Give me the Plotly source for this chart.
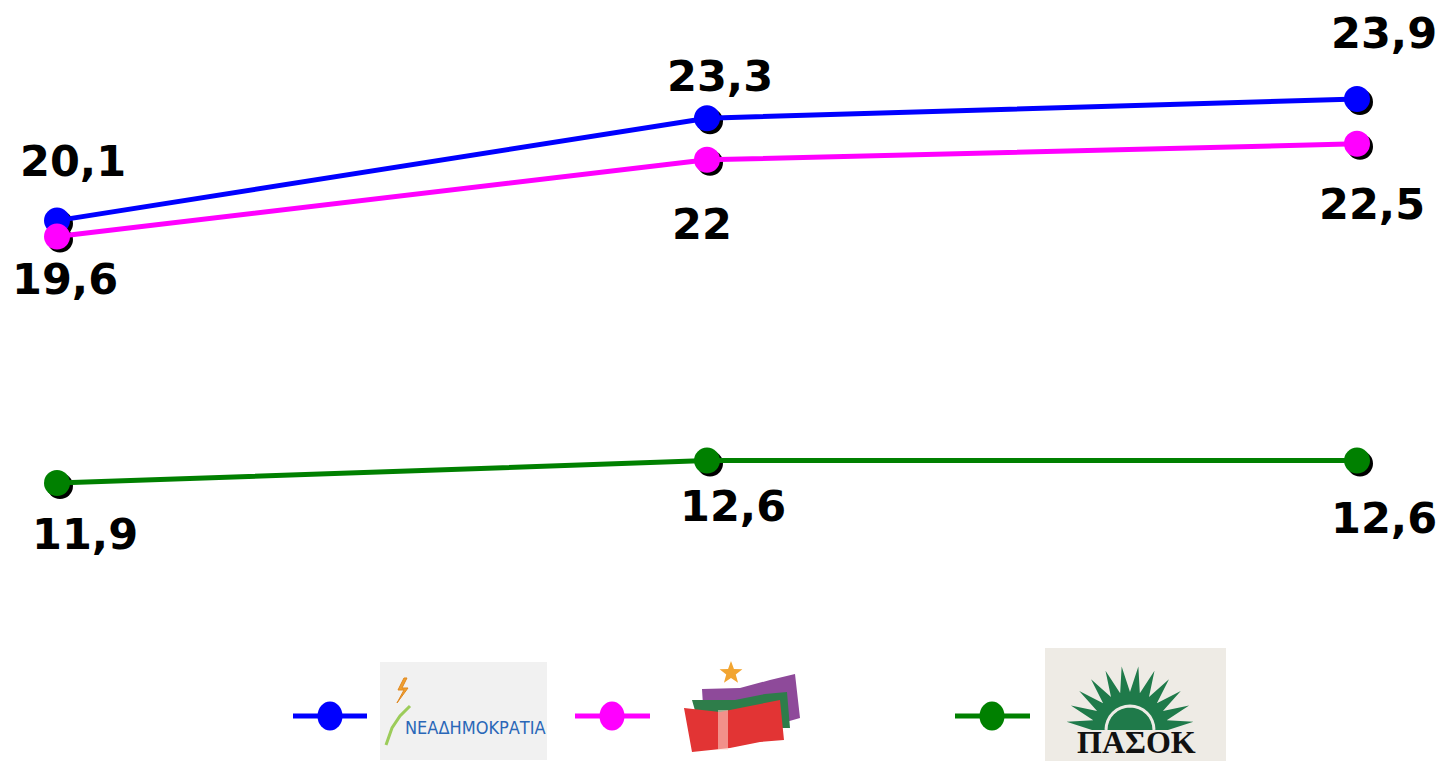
import math
import plotly.graph_objects as go

# ---------------- data ----------------
polls = [0, 1, 2]                      # three successive polls (no axis labels shown)
nd_values = [20.1, 23.3, 23.9]         # ΝΕΑ ΔΗΜΟΚΡΑΤΙΑ
syriza_values = [19.6, 22.0, 22.5]     # ΣΥΡΙΖΑ
pasok_values = [11.9, 12.6, 12.6]      # ΠΑΣΟΚ
series_names = ["ΝΕΑ ΔΗΜΟΚΡΑΤΙΑ", "ΣΥΡΙΖΑ", "ΠΑΣΟΚ"]

# ---------------- style ----------------
OFF = 8                      # page body margin compensation
W, H = 1445 - OFF, 761 - OFF
colors = ["#0000FF", "#FF00FF", "#008000"]
label_shifts = [  # (dx, dy) in pixels, dy positive = downwards
    [(16, -60), (13, -42), (27, -66)],
    [(8, 42), (-5, 64), (15, 60)],
    [(28, 51), (26, 45), (27, 57)],
]
XR = [(OFF - 57) / 650, (1445 - 57) / 650]
YR = [11.9 - (761 - 483) / 32, 11.9 + (483 - OFF) / 32]
px_per_x = 650
px_per_y = 32
SH = 3  # shadow offset in px

def fmt(v):
    return f"{v:g}".replace(".", ",")

def PX(x):
    return (x - OFF) / W

def PY(y):
    return 1 - (y - OFF) / H

fig = go.Figure()
all_series = [nd_values, syriza_values, pasok_values]

# shadows (base axes, shifted range)
for vals in all_series:
    fig.add_trace(go.Scatter(x=polls, y=vals, mode="markers", xaxis="x", yaxis="y",
                             marker=dict(size=26, color="black"),
                             showlegend=False, hoverinfo="skip"))
# main series (overlay axes)
for vals, c, n in zip(all_series, colors, series_names):
    fig.add_trace(go.Scatter(x=polls, y=vals, mode="lines+markers", name=n,
                             xaxis="x2", yaxis="y2",
                             line=dict(color=c, width=5),
                             marker=dict(size=26, color=c),
                             showlegend=False))

annotations = []
for vals, shifts in zip(all_series, label_shifts):
    for x, v, (dx, dy) in zip(polls, vals, shifts):
        annotations.append(dict(x=x, y=v, xref="x2", yref="y2", text=f"<b>{fmt(v)}</b>",
                                showarrow=False, xshift=dx, yshift=-dy,
                                xanchor="center", yanchor="middle",
                                font=dict(family="DejaVu Sans", size=43, color="black")))

shapes = []

def path(points, close=True):
    s = "M " + " L ".join(f"{PX(x):.5f},{PY(y):.5f}" for x, y in points)
    return s + (" Z" if close else "")

# ND logo
shapes.append(dict(type="rect", xref="paper", yref="paper", x0=PX(380), x1=PX(547),
                   y0=PY(760), y1=PY(662), fillcolor="#f1f1f1", line=dict(width=0), layer="below"))
shapes.append(dict(type="path", xref="paper", yref="paper",
                   path=path([(386, 745), (392, 728), (400, 716), (410, 706)], close=False),
                   line=dict(color="#9ccc5a", width=3)))
shapes.append(dict(type="path", xref="paper", yref="paper",
                   path=path([(404, 678), (398, 690), (404, 690), (397, 703), (408, 688), (402, 688), (407, 678)]),
                   fillcolor="#f0a030", line=dict(color="#e08820", width=1)))
annotations.append(dict(x=PX(475), y=PY(727), xref="paper", yref="paper", showarrow=False,
                        xanchor="center", yanchor="middle",
                        text="ΝΕΑΔΗΜΟΚΡΑΤΙΑ",
                        font=dict(family="DejaVu Sans Condensed, Liberation Sans", size=18, color="#2a67b8")))

# SYRIZA logo
shapes.append(dict(type="path", xref="paper", yref="paper",
                   path=path([(702, 689), (740, 688), (770, 680), (795, 674), (800, 718), (786, 722), (704, 722)]),
                   fillcolor="#8e4a9a", line=dict(width=0)))
shapes.append(dict(type="path", xref="paper", yref="paper",
                   path=path([(692, 700), (735, 700), (765, 694), (787, 692), (790, 728), (700, 728)]),
                   fillcolor="#2e7d4a", line=dict(width=0)))
shapes.append(dict(type="path", xref="paper", yref="paper",
                   path=path([(684, 708), (720, 712), (750, 706), (780, 700), (784, 740), (760, 742), (730, 748), (692, 752)]),
                   fillcolor="#e23434", line=dict(width=0)))
shapes.append(dict(type="rect", xref="paper", yref="paper", x0=PX(718), x1=PX(728),
                   y0=PY(750), y1=PY(710), fillcolor="rgba(255,220,210,0.55)", line=dict(width=0)))
star = []
cx, cy = 731, 673
for k in range(10):
    r = 12 if k % 2 == 0 else 5
    a = -math.pi / 2 + k * math.pi / 5
    star.append((cx + r * math.cos(a), cy + r * math.sin(a)))
shapes.append(dict(type="path", xref="paper", yref="paper", path=path(star),
                   fillcolor="#f2a531", line=dict(width=0)))

# PASOK logo
shapes.append(dict(type="rect", xref="paper", yref="paper", x0=PX(1045), x1=PX(1226),
                   y0=PY(761), y1=PY(648), fillcolor="#eeebe5", line=dict(width=0), layer="below"))
sun = []
scx, scy = 1130, 730
nr = 12
for k in range(2 * nr + 1):
    a = math.pi - k * math.pi / (2 * nr)
    r = 64 if k % 2 == 1 else 38
    sun.append((scx + r * math.cos(a), scy - r * math.sin(a)))
shapes.append(dict(type="path", xref="paper", yref="paper", path=path(sun),
                   fillcolor="#1f7a4a", line=dict(width=0)))
arc = [(scx + 24 * math.cos(math.pi - k * math.pi / 16), scy - 24 * math.sin(math.pi - k * math.pi / 16)) for k in range(17)]
shapes.append(dict(type="path", xref="paper", yref="paper", path=path(arc, close=False),
                   line=dict(color="#eeebe5", width=3)))
annotations.append(dict(x=PX(1136), y=PY(742), xref="paper", yref="paper", showarrow=False,
                        xanchor="center", yanchor="middle",
                        text="<b>ΠΑΣΟΚ</b>",
                        font=dict(family="Liberation Serif", size=32, color="#111111")))

# ---------------- manual legend ----------------
legend_items = [(293, 367, 330), (575, 650, 612), (955, 1030, 992)]
ly = 716
for (x0, x1, xm), c in zip(legend_items, colors):
    shapes.append(dict(type="line", xref="paper", yref="paper", x0=PX(x0), x1=PX(x1),
                       y0=PY(ly), y1=PY(ly), line=dict(color=c, width=5)))
    shapes.append(dict(type="circle", xref="paper", yref="paper",
                       x0=PX(xm - 12.5), x1=PX(xm + 12.5), y0=PY(ly - 14.5), y1=PY(ly + 14.5),
                       fillcolor=c, line=dict(width=0)))

axis_common = dict(visible=False, showgrid=False, zeroline=False, fixedrange=True)
fig.update_layout(
    width=W, height=H,
    margin=dict(l=0, r=0, t=0, b=0),
    paper_bgcolor="white", plot_bgcolor="white",
    showlegend=False,
    xaxis=dict(range=[XR[0] - SH / px_per_x, XR[1] - SH / px_per_x], domain=[0, 1], **axis_common),
    yaxis=dict(range=[YR[0] + SH / px_per_y, YR[1] + SH / px_per_y], domain=[0, 1], **axis_common),
    xaxis2=dict(range=XR, overlaying="x", **axis_common),
    yaxis2=dict(range=YR, overlaying="y", **axis_common),
    shapes=shapes,
    annotations=annotations,
)

fig.write_html("out.html")
